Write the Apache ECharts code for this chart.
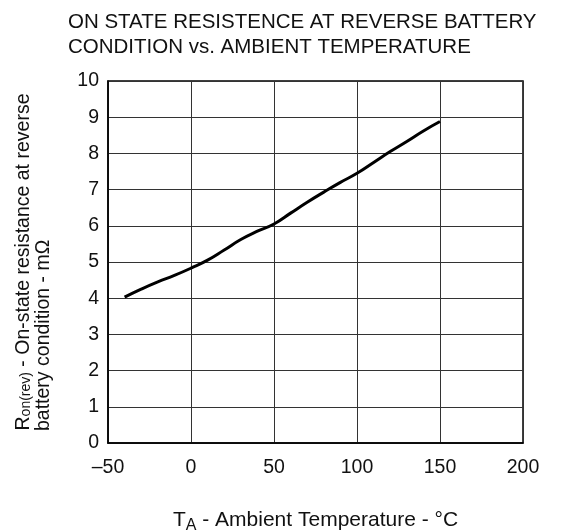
<!DOCTYPE html>
<html>
<head>
<meta charset="utf-8">
<script src="https://cdn.jsdelivr.net/npm/echarts@6/dist/echarts.min.js"></script>
<style>
  html, body { margin: 0; padding: 0; background: #fff; }
  #chart { width: 563px; height: 532px; }
</style>
</head>
<body>
<div id="chart"></div>
<script>
// 温度 (°C) 与反向电池条件下的导通电阻 (mΩ)
const temps = [-40, -30, -20, -10, 0, 10, 20, 30, 40, 50, 60, 70, 80, 90, 100, 110, 120, 130, 140, 150];
const resistance = [4.03, 4.25, 4.45, 4.63, 4.83, 5.05, 5.33, 5.62, 5.85, 6.05, 6.35, 6.65, 6.93, 7.2, 7.45, 7.75, 8.05, 8.33, 8.62, 8.88];

const titleLines = ['ON STATE RESISTENCE AT REVERSE BATTERY', 'CONDITION vs. AMBIENT TEMPERATURE'];
const font = 'Liberation Sans, Arial, sans-serif';

const chart = echarts.init(document.getElementById('chart'));

chart.setOption({
  animation: false,
  title: {
    text: titleLines.join('\n'),
    left: 63,
    top: 5,
    textStyle: { fontFamily: font, fontSize: 20.5, fontWeight: 'normal', color: '#111', lineHeight: 25 }
  },
  grid: {
    left: 108, right: 40, top: 81, bottom: 89,
    outerBoundsMode: 'none',
    containLabel: false,
    show: true, borderColor: '#000', borderWidth: 1.5
  },
  xAxis: {
    type: 'value',
    min: -50, max: 200, interval: 50,
    axisLine: { show: true, onZero: false, lineStyle: { color: '#000', width: 1.5 } },
    axisTick: { show: false },
    axisLabel: {
      fontFamily: font, fontSize: 19.5, color: '#111', margin: 15,
      formatter: v => String(v).replace('-', '–')
    },
    splitLine: { show: true, lineStyle: { color: '#333', width: 1 } },
    name: '{a|T}{s|A}{a| - Ambient Temperature - °C}',
    nameLocation: 'middle',
    nameGap: 63,
    nameTextStyle: {
      rich: {
        a: { fontFamily: font, fontSize: 21, color: '#111' },
        s: { fontFamily: font, fontSize: 16, color: '#111', padding: [12, 0, 0, 0] }
      }
    }
  },
  yAxis: {
    type: 'value',
    min: 0, max: 10, interval: 1,
    axisLine: { show: true, onZero: false, lineStyle: { color: '#000', width: 1.5 } },
    axisTick: { show: false },
    axisLabel: { fontFamily: font, fontSize: 19.5, color: '#111', margin: 9 },
    splitLine: { show: true, lineStyle: { color: '#333', width: 1 } },
    name: '{a|R}{s|on(rev)}{a| - On-state resistance at reverse}\n{b|battery condition - mΩ}',
    nameLocation: 'middle',
    nameRotate: 90,
    nameGap: 54,
    nameTextStyle: {
      align: 'center',
      rich: {
        a: { fontFamily: font, fontSize: 19.5, color: '#111', lineHeight: 20 },
        s: { fontFamily: font, fontSize: 14, color: '#111', lineHeight: 14, padding: [5, 0, 0, 0] },
        b: { fontFamily: font, fontSize: 19.5, color: '#111', lineHeight: 20, width: 338, align: 'left' }
      }
    }
  },
  series: [{
    type: 'line',
    data: temps.map((t, i) => [t, resistance[i]]),
    smooth: true,
    showSymbol: false,
    lineStyle: { color: '#000', width: 3 }
  }]
});
</script>
</body>
</html>
